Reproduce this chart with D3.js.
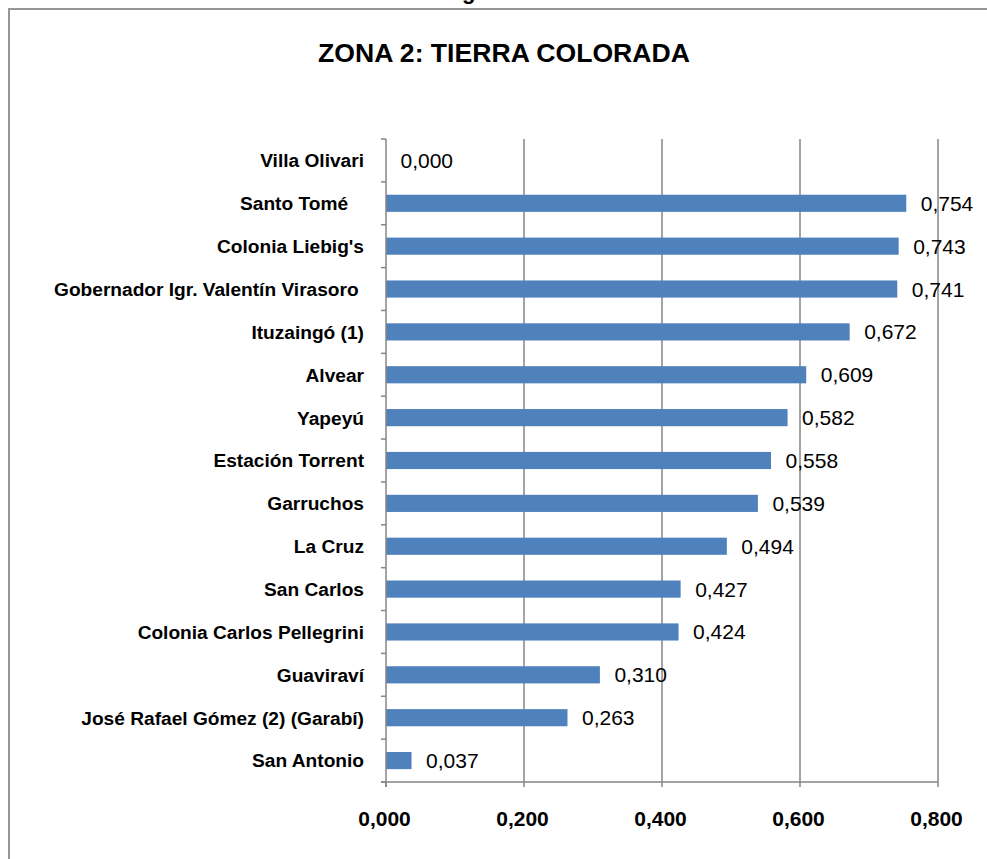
<!DOCTYPE html>
<html>
<head>
<meta charset="utf-8">
<script src="https://cdn.jsdelivr.net/npm/d3@7"></script>
<style>
  body { margin: 0; background: #fff; }
  text { font-family: "Liberation Sans", Arial, sans-serif; white-space: pre; }
</style>
</head>
<body>
<script>
// data
var chartTitle = "ZONA 2: TIERRA COLORADA";
var categories = [
  "Villa Olivari",
  "Santo Tomé   ",
  "Colonia Liebig's",
  "Gobernador Igr. Valentín Virasoro ",
  "Ituzaingó (1)",
  "Alvear",
  "Yapeyú",
  "Estación Torrent",
  "Garruchos",
  "La Cruz",
  "San Carlos",
  "Colonia Carlos Pellegrini",
  "Guaviraví",
  "José Rafael Gómez (2) (Garabí)",
  "San Antonio"
];
var values = [0.000, 0.754, 0.743, 0.741, 0.672, 0.609, 0.582, 0.558, 0.539, 0.494, 0.427, 0.424, 0.310, 0.263, 0.037];
var tickValues = [0, 0.2, 0.4, 0.6, 0.8];
var tickLabels = ["0,000", "0,200", "0,400", "0,600", "0,800"];

function plot_it() {
    var svg_width = 987, svg_height = 859;
    var barColor = "#4F81BD", gridColor = "#868686";
    var fmt = d => d3.format(".3f")(d).replace(".", ",");

    var svg = d3.select("body").append("svg")
        .attr("width", svg_width).attr("height", svg_height);

    // outer chart frame (runs off the right/bottom of the picture)
    svg.append("rect")
        .attr("x", 9).attr("y", 9).attr("width", 1000).attr("height", 900)
        .attr("fill", "none").attr("stroke", "#969696").attr("stroke-width", 2);

    // tail of a heading cut off above the frame
    svg.append("text").attr("x", 462).attr("y", -1.5)
        .attr("font-weight", "bold").attr("font-size", 22).text("g");

    // scales
    var x = d3.scaleLinear().domain([0, 0.8]).range([386, 938]);
    var y = d3.scaleBand().domain(categories).range([139, 782]).paddingInner(0.6).paddingOuter(0.3);

    // title, fitted to the reference width
    var title = svg.append("text")
        .attr("x", 504).attr("y", 62).attr("text-anchor", "middle")
        .attr("font-weight", "bold").attr("font-size", 26).text(chartTitle);
    var tw = title.node().getComputedTextLength();
    title.attr("font-size", 26 * 372 / tw);

    // vertical gridlines
    svg.append("g").selectAll("line").data(tickValues.slice(1)).enter().append("line")
        .attr("x1", d => x(d)).attr("x2", d => x(d))
        .attr("y1", y.range()[0]).attr("y2", y.range()[1])
        .attr("stroke", gridColor).attr("stroke-width", 1.5);

    // bars
    svg.append("g").selectAll("rect").data(values).enter().append("rect")
        .attr("x", x(0))
        .attr("y", (d, i) => y(categories[i]))
        .attr("width", d => x(d) - x(0))
        .attr("height", y.bandwidth())
        .attr("fill", barColor);

    // value labels
    svg.append("g").selectAll("text").data(values).enter().append("text")
        .attr("x", d => x(d) + 14.5)
        .attr("y", (d, i) => y(categories[i]) + y.bandwidth() / 2 + 7.5)
        .attr("font-size", 21).attr("fill", "#000")
        .text(d => fmt(d));

    // axes lines
    var axisG = svg.append("g").attr("stroke", gridColor).attr("stroke-width", 1.5);
    axisG.append("line").attr("x1", x(0)).attr("x2", x(0)).attr("y1", y.range()[0]).attr("y2", y.range()[1] + 5);
    axisG.append("line").attr("x1", x(0) - 5).attr("x2", x(0.8)).attr("y1", y.range()[1]).attr("y2", y.range()[1]);
    // category tick marks at band boundaries
    axisG.selectAll("line.ct").data(d3.range(categories.length + 1)).enter().append("line")
        .attr("class", "ct")
        .attr("x1", x(0) - 5).attr("x2", x(0))
        .attr("y1", i => y.range()[0] + i * y.step()).attr("y2", i => y.range()[0] + i * y.step());
    // value tick marks
    axisG.selectAll("line.vt").data(tickValues).enter().append("line")
        .attr("class", "vt")
        .attr("x1", d => x(d)).attr("x2", d => x(d))
        .attr("y1", y.range()[1]).attr("y2", y.range()[1] + 5);

    // tick labels
    svg.append("g").selectAll("text").data(tickValues).enter().append("text")
        .attr("x", d => x(d) - 1.5).attr("y", 826)
        .attr("text-anchor", "middle").attr("font-weight", "bold").attr("font-size", 21)
        .text((d, i) => tickLabels[i]);

    // category labels, font fitted to the longest label
    var catG = svg.append("g");
    var probe = catG.append("text").attr("font-weight", "bold").attr("font-size", 16)
        .text("Gobernador Igr. Valentín Virasoro");
    var catSize = 16 * 305 / probe.node().getComputedTextLength();
    probe.remove();
    catG.selectAll("text").data(categories).enter().append("text")
        .attr("x", 364)
        .attr("y", d => y(d) + y.bandwidth() / 2 + catSize * 0.36)
        .attr("text-anchor", "end").attr("font-weight", "bold").attr("font-size", catSize)
        .text(d => d);
}
plot_it();
</script>
</body>
</html>
